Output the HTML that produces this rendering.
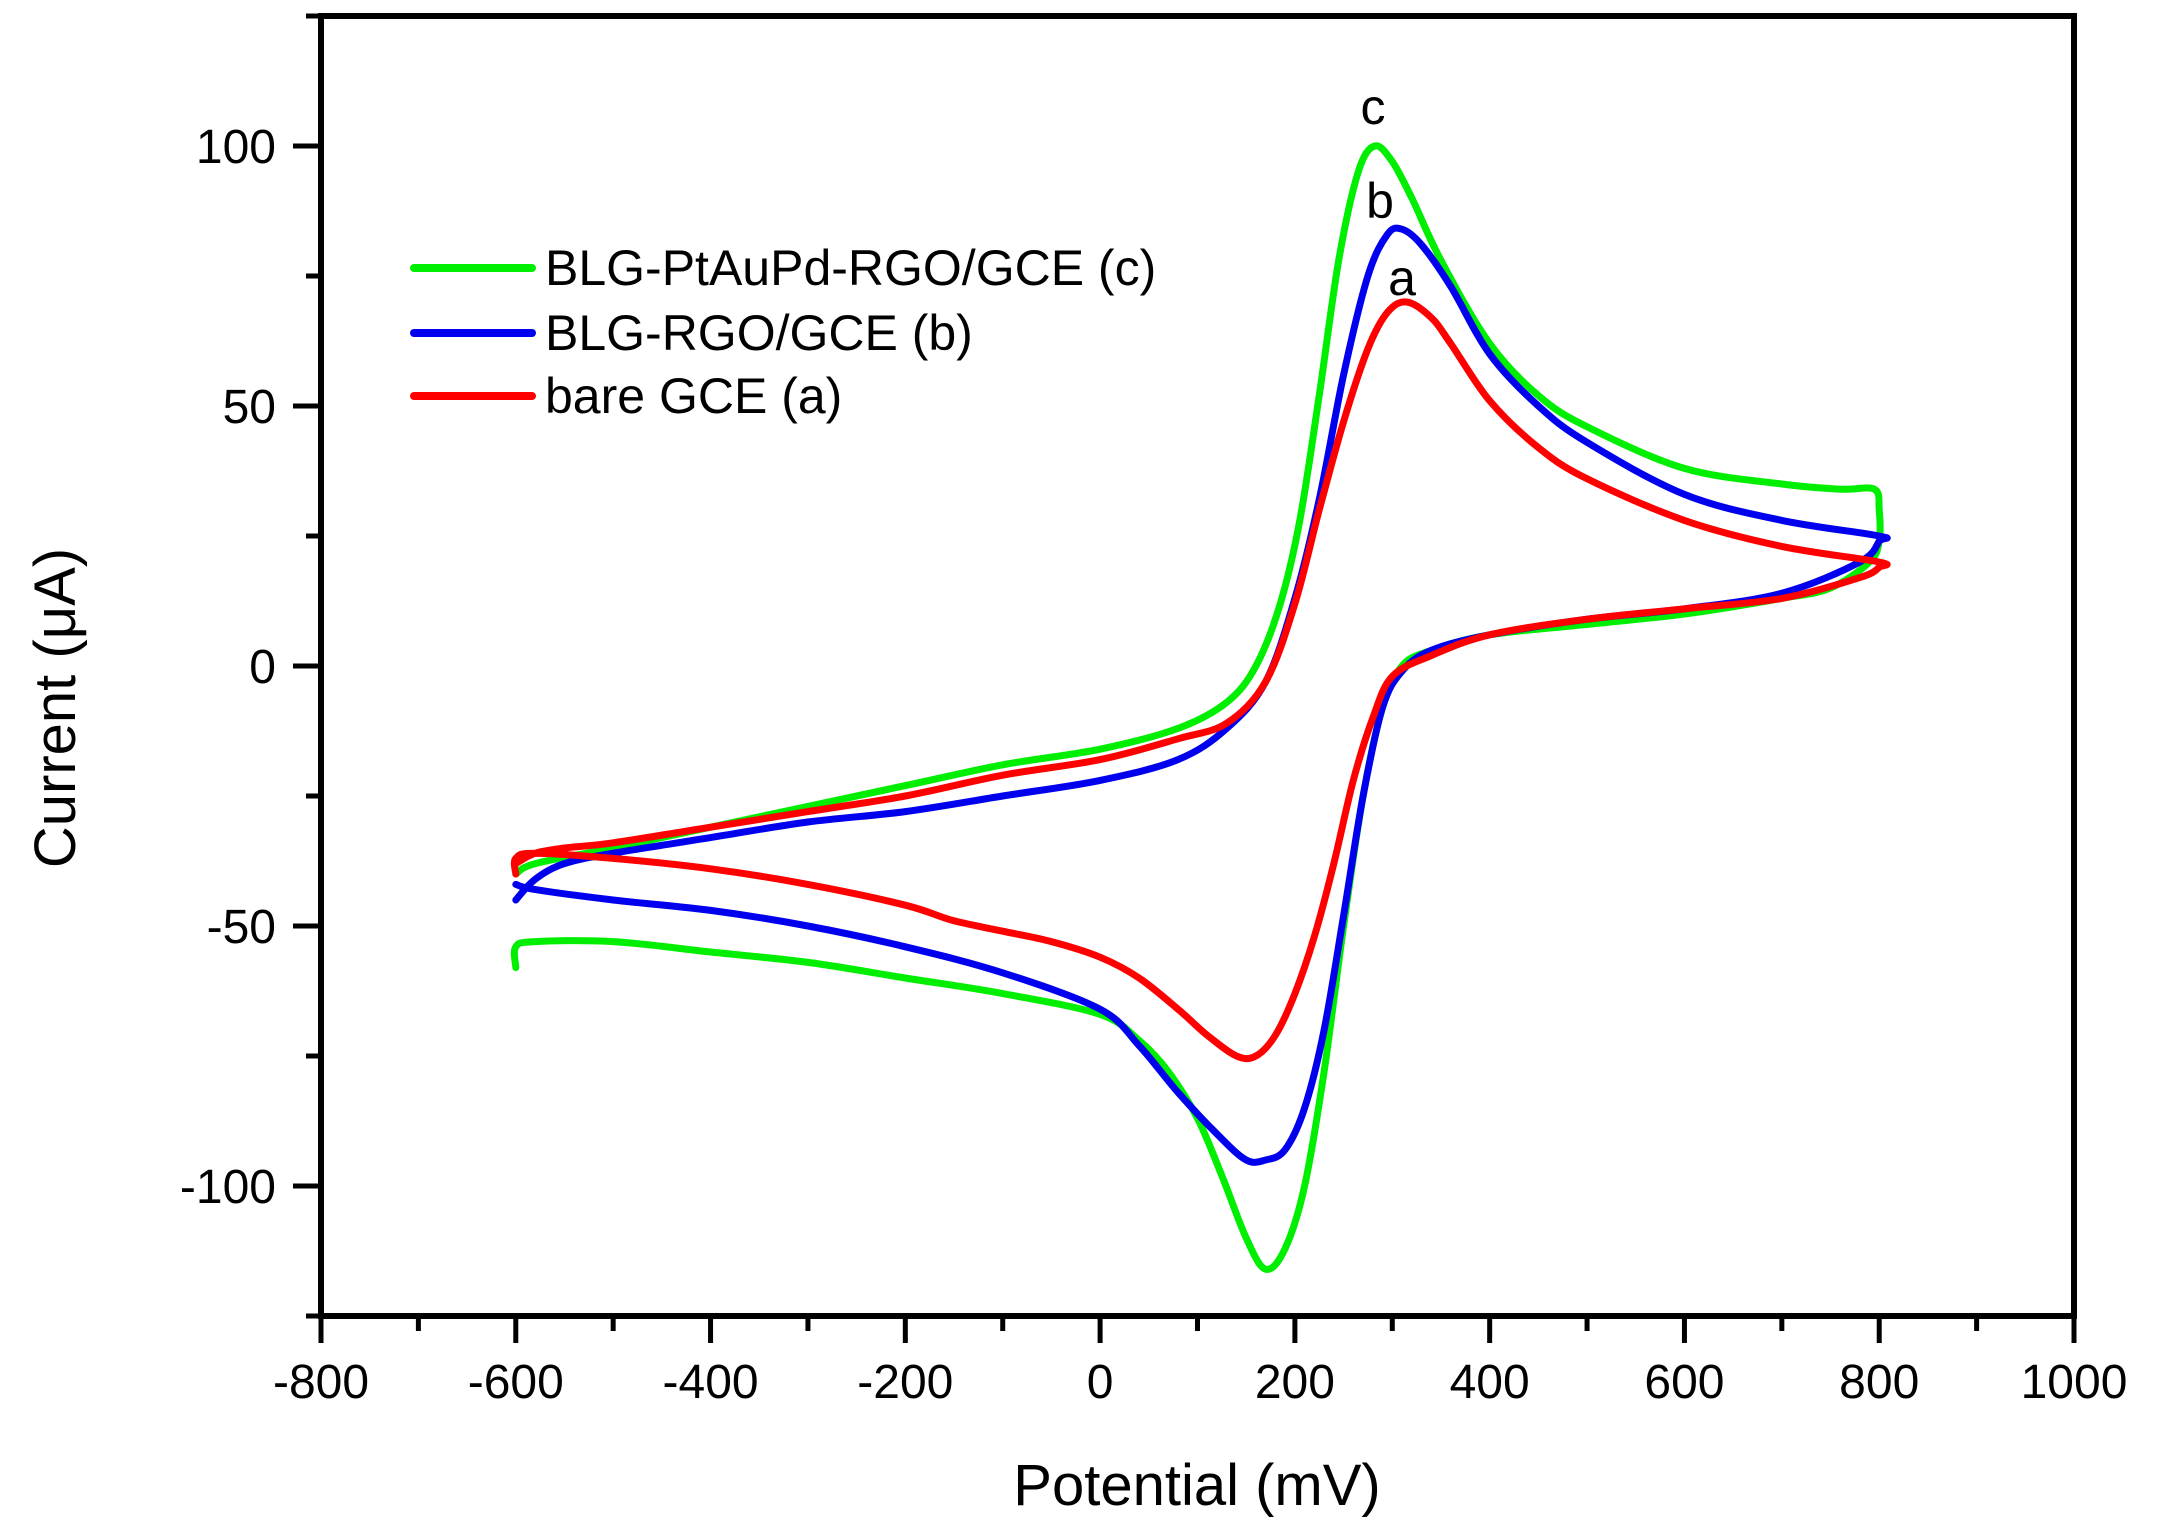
<!DOCTYPE html>
<html><head><meta charset="utf-8"><style>
html,body{margin:0;padding:0;background:#fff;}
svg{display:block;font-family:"Liberation Sans",Arial,sans-serif;}
</style></head><body>
<svg id="chart" width="2157" height="1536" viewBox="0 0 2157 1536" xmlns="http://www.w3.org/2000/svg">
<rect width="2157" height="1536" fill="#fff"/>
<g id="plot"></g>
</svg>
<script>
const xTicks = [-800,-600,-400,-200,0,200,400,600,800,1000];
const yTicks = [-100,-50,0,50,100];
const seriesNames = ["BLG-PtAuPd-RGO/GCE (c)","BLG-RGO/GCE (b)","bare GCE (a)"];
const seriesColors = ["#00ee00","#0000ee","#ff0000"];
const peakLabels = ["c","b","a"];
const greenX = [-600,-580,-500,-400,-300,-200,-100,0,80,130,160,185,205,225,245,265,282,300,320,350,400,450,500,600,700,760,795,800,800,790,750,700,600,500,400,340,310,290,270,250,230,210,190,170,150,125,100,70,40,0,-100,-200,-300,-400,-500,-580,-600,-600];
const greenY = [-40,-38,-35,-31,-27,-23,-19,-16,-12,-7,0,12,28,52,78,95,100,97,90,78,62,52,46,38,35,34,34,30,24,20,15,13,10,8,6,3,0,-8,-25,-50,-78,-100,-112,-116,-110,-98,-87,-78,-72,-67,-63,-60,-57,-55,-53,-53,-54,-58];
const blueX = [-600,-580,-550,-500,-400,-300,-200,-100,0,80,130,170,200,225,250,275,295,310,330,360,400,450,500,600,700,800,800,780,700,600,500,400,340,310,290,270,250,230,210,190,170,150,120,80,40,0,-100,-200,-300,-400,-500,-580,-600];
const blueY = [-45,-41,-38,-36,-33,-30,-28,-25,-22,-18,-12,-3,13,32,56,75,83,84,81,73,60,50,43,33,28,25,24,20,14,11,9,6,3,-1,-8,-25,-48,-70,-85,-93,-95,-95,-90,-82,-73,-66,-59,-54,-50,-47,-45,-43,-42];
const redX = [-600,-580,-550,-500,-400,-300,-200,-100,0,80,130,170,200,225,250,275,295,315,340,360,400,450,500,600,700,800,800,780,700,600,500,400,340,300,280,260,240,220,200,180,160,140,110,80,40,0,-50,-100,-150,-200,-300,-400,-500,-580,-600,-600];
const redY = [-38,-36,-35,-34,-31,-28,-25,-21,-18,-14,-11,-3,12,30,47,61,68,70,67,62,51,42,36,28,23,20,19,17,13,11,9,6,2,-2,-10,-22,-38,-52,-63,-71,-75,-75,-71,-66,-60,-56,-53,-51,-49,-46,-42,-39,-37,-36,-37,-40];

const X0=321, X1=2074, Y0=666, PXY=5.2;
const sx = v => X0 + (v+800)*(X1-X0)/1800;
const sy = v => Y0 - v*PXY;
const NS="http://www.w3.org/2000/svg";
const plot=document.getElementById('plot');
function mk(tag, attrs){const e=document.createElementNS(NS,tag);for(const k in attrs)e.setAttribute(k,attrs[k]);return e;}

const frame=mk('rect',{x:X0,y:sy(125),width:X1-X0,height:sy(-125)-sy(125),fill:'none',stroke:'#000','stroke-width':6});


plot.appendChild(frame);

for(let v=-800; v<=1000; v+=100){
  const major = v%200===0;
  const t=mk('line',{x1:sx(v),x2:sx(v),y1:sy(-125),y2:sy(-125)+(major?27:15),stroke:'#000','stroke-width':5});
  
  
  plot.appendChild(t);
}
xTicks.forEach(v=>{
  const t=mk('text',{x:sx(v),y:1398,'font-size':48,'text-anchor':'middle',fill:'#000'});
  t.textContent=v;
  
  
  plot.appendChild(t);
});
for(let v=-125; v<=125; v+=25){
  const major = v%50===0;
  const t=mk('line',{x1:X0,x2:X0-(major?28:15),y1:sy(v),y2:sy(v),stroke:'#000','stroke-width':5});
  
  
  plot.appendChild(t);
}
yTicks.forEach(v=>{
  const t=mk('text',{x:276,y:sy(v)+17,'font-size':48,'text-anchor':'end',fill:'#000'});
  t.textContent=v;
  
  
  plot.appendChild(t);
});
const xt=mk('text',{x:1197,y:1505,'font-size':58,'text-anchor':'middle',fill:'#000'});
xt.textContent='Potential (mV)';


plot.appendChild(xt);
const yt=mk('text',{x:0,y:0,'font-size':58,'text-anchor':'middle',fill:'#000',transform:'translate(75,708) rotate(-90)'});
yt.textContent='Current (μA)';


plot.appendChild(yt);

function pathFrom(xs, ys){
  const p=xs.map((x,i)=>[sx(x),sy(ys[i])]);
  let d='M'+p[0][0].toFixed(1)+','+p[0][1].toFixed(1);
  for(let i=0;i<p.length-1;i++){
    const p0=p[Math.max(0,i-1)],p1=p[i],p2=p[i+1],p3=p[Math.min(p.length-1,i+2)];
    const c1=[p1[0]+(p2[0]-p0[0])/6,p1[1]+(p2[1]-p0[1])/6];
    const c2=[p2[0]-(p3[0]-p1[0])/6,p2[1]-(p3[1]-p1[1])/6];
    d+=' C'+c1.map(n=>n.toFixed(1)).join(',')+' '+c2.map(n=>n.toFixed(1)).join(',')+' '+p2[0].toFixed(1)+','+p2[1].toFixed(1);
  }
  return d;
}
const curves=[[greenX,greenY],[blueX,blueY],[redX,redY]];
const curveNames=['series-c-green','series-b-blue','series-a-red'];
curves.forEach((c,i)=>{
  const el=mk('path',{d:pathFrom(c[0],c[1]),fill:'none',stroke:seriesColors[i],'stroke-width':7,'stroke-linejoin':'round','stroke-linecap':'round'});
  
  
  plot.appendChild(el);
});

const lblPos=[[1373,124],[1380,218],[1402,295]];
peakLabels.forEach((l,i)=>{
  const t=mk('text',{x:lblPos[i][0],y:lblPos[i][1],'font-size':50,'text-anchor':'middle',fill:'#000'});
  t.textContent=l;
  
  
  plot.appendChild(t);
});

const legY=[268,333,396];
seriesNames.forEach((n,i)=>{
  const g=mk('g',{});
  
  
  g.appendChild(mk('line',{x1:414,x2:532,y1:legY[i],y2:legY[i],stroke:seriesColors[i],'stroke-width':8,'stroke-linecap':'round'}));
  const t=mk('text',{x:545,y:legY[i]+17,'font-size':50,fill:'#000'});
  t.textContent=n;
  g.appendChild(t);
  plot.appendChild(g);
});
</script>
</body></html>
